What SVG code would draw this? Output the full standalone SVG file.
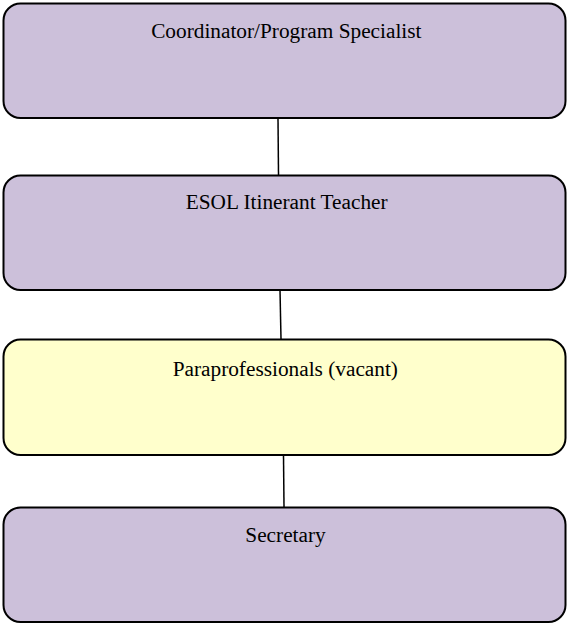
<svg xmlns="http://www.w3.org/2000/svg" width="569" height="625" viewBox="0 0 569 625">
<style>
.box{stroke:#000;stroke-width:2}
.p{fill:#CCC0DA}
.y{fill:#FFFFCC}
.t{font-family:"Liberation Serif","Times New Roman","DejaVu Serif",serif;font-size:21.3px;fill:#000;text-anchor:middle}
.c{stroke:#000;stroke-width:1.5;fill:none}
</style>
<rect width="569" height="625" fill="#fff"/>
<g id="connectors">
<line class="c" x1="278" y1="118" x2="278.5" y2="175"/>
<line class="c" x1="280" y1="290" x2="281" y2="339"/>
<line class="c" x1="283.5" y1="455" x2="284" y2="507"/>
</g>
<g id="n1"><rect class="box p" x="3.5" y="3.5" width="562" height="114.5" rx="17"/><text class="t" font-family="Liberation Serif, serif" x="286.3" y="37.7">Coordinator/Program Specialist</text></g>
<g id="n2"><rect class="box p" x="3.5" y="175.5" width="562" height="114.5" rx="17"/><text class="t" font-family="Liberation Serif, serif" x="286.7" y="209.3">ESOL Itinerant Teacher</text></g>
<g id="n3"><rect class="box y" x="3.5" y="339.5" width="562" height="115.5" rx="17"/><text class="t" font-family="Liberation Serif, serif" x="285.3" y="375.5">Paraprofessionals (vacant)</text></g>
<g id="n4"><rect class="box p" x="3.5" y="507.5" width="562" height="114.5" rx="17"/><text class="t" font-family="Liberation Serif, serif" x="285.5" y="541.7">Secretary</text></g>
</svg>
